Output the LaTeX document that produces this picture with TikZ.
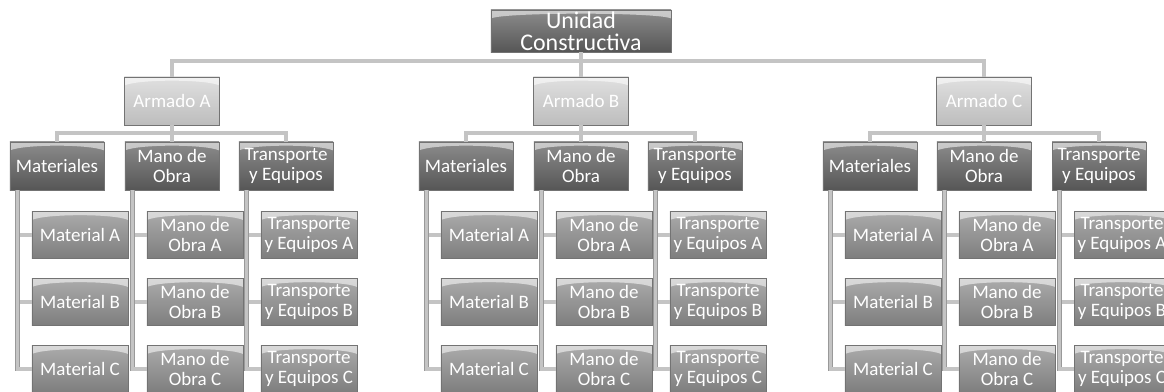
\documentclass[tikz,border=0pt]{standalone}
\usepackage{fontspec}
\setmainfont{Carlito}
\usetikzlibrary{positioning}

\definecolor{darktop}{HTML}{8C8C8C}
\definecolor{darkbot}{HTML}{565656}
\definecolor{lighttop}{HTML}{E0E0E0}
\definecolor{lightbot}{HTML}{BDBDBD}
\definecolor{midtop}{HTML}{ABABAB}
\definecolor{midbot}{HTML}{7E7E7E}
\definecolor{linegray}{HTML}{C4C4C4}

\begin{document}
\begin{tikzpicture}[x=0.025cm, y=-0.025cm,
    hood/.style={path picture={
        \fill[white, opacity=.55] (path picture bounding box.north west) -- (path picture bounding box.north east)
            -- ([yshift=-6pt]path picture bounding box.north east)
            .. controls ([xshift=-10pt,yshift=-1.5pt]path picture bounding box.north east)
            and ([xshift=10pt,yshift=-1.5pt]path picture bounding box.north west)
            .. ([yshift=-6pt]path picture bounding box.north west) -- cycle;}},
    box/.style={draw=black!55, line width=0.4pt, align=center, text=white, inner sep=0pt, hood},
    topbox/.style={box, top color=darktop, bottom color=darkbot, minimum width=4.5cm, minimum height=1.05cm,
        font=\fontsize{17}{15.5}\selectfont},
    armbox/.style={box, top color=lighttop, bottom color=lightbot, minimum width=2.375cm, minimum height=1.2cm,
        font=\fontsize{13.5}{14.5}\selectfont},
    catbox/.style={box, top color=darktop, bottom color=darkbot, minimum width=2.35cm, minimum height=1.2cm,
        font=\fontsize{13.5}{14.5}\selectfont},
    itembox/.style={box, top color=midtop, bottom color=midbot, minimum width=2.4cm, minimum height=1.175cm,
        font=\fontsize{13.5}{14.5}\selectfont},
    conn/.style={draw=black!40, double=linegray, double distance=2.2pt, line width=0.5pt}]

        \useasboundingbox (0,0) rectangle (1164,392);
        \clip (0,0) rectangle (1164,392);

        % Node definitions
        \node (U) [topbox] at (581,31) {Unidad\\Constructiva};
        \coordinate (topbar) at (0,61);
        \coordinate (midbar) at (0,133);

        \foreach \g/\ax/\mx/\tx in {A/57/172/286, B/466/581/695, C/870/984/1099} {
            \node (arm\g) [armbox] at (\mx,101) {Armado \g};

            \node (mat\g) [catbox] at (\ax,166) {Materiales};
            \node (mano\g) [catbox] at (\mx,166) {Mano de\\Obra};
            \node (trans\g) [catbox] at (\tx,166) {Transporte\\y Equipos};

            \foreach \i/\y in {A/235, B/302, C/369} {
                \node (mat\g-\i) [itembox] at (\ax+23,\y) {Material \i};
                \node (mano\g-\i) [itembox] at (\mx+23,\y) {Mano de\\Obra \i};
                \node (trans\g-\i) [itembox] at (\tx+23,\y) {Transporte\\y Equipos \i};

                % Connecting lines to the items
                \draw[conn] (mat\g.south west) ++(8,0) |- (mat\g-\i.west);
                \draw[conn] (mano\g.south west) ++(8,0) |- (mano\g-\i.west);
                \draw[conn] (trans\g.south west) ++(8,0) |- (trans\g-\i.west);
            }

            % Connecting lines
            \draw[conn] (U.south) -- (U.south |- topbar) -| (arm\g.north);
            \draw[conn] (arm\g.south) -- (arm\g.south |- midbar) -| (mat\g.north);
            \draw[conn] (arm\g.south) -- (arm\g.south |- midbar) -| (mano\g.north);
            \draw[conn] (arm\g.south) -- (arm\g.south |- midbar) -| (trans\g.north);
        }
    \end{tikzpicture}
\end{document}
